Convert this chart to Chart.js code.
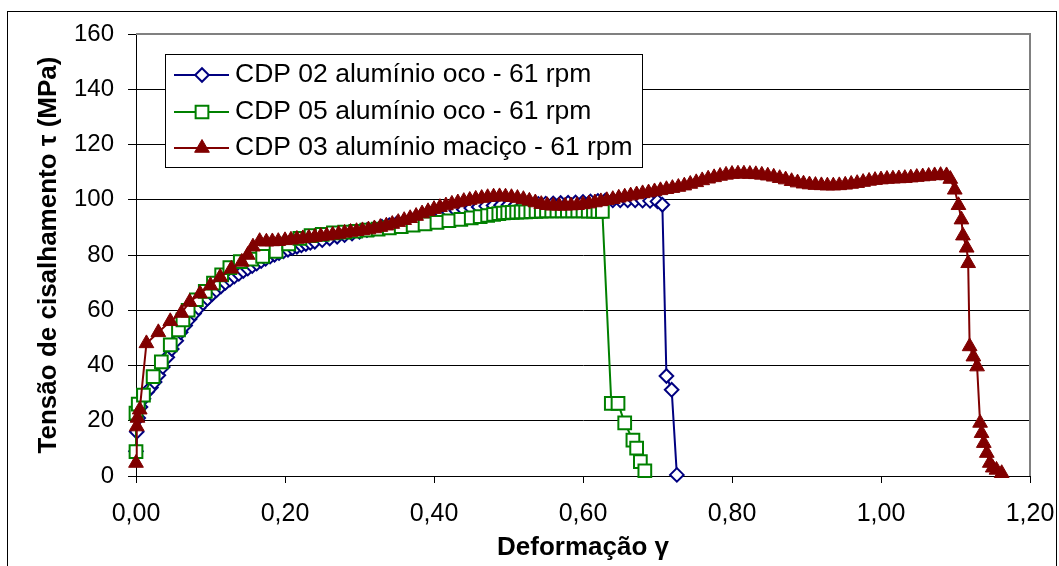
<!DOCTYPE html>
<html lang="pt-BR">
<head>
<meta charset="utf-8">
<title>Tensão de cisalhamento x Deformação</title>
<script src="https://cdn.jsdelivr.net/npm/chart.js@4.4.1/dist/chart.umd.min.js"></script>
<style>
  html, body { margin: 0; padding: 0; background: #fff; }
  #wrap { width: 1059px; height: 566px; }
</style>
</head>
<body>
<div id="wrap"><canvas id="tensaoChart" width="1059" height="566"></canvas></div>
<script>
// ==== Eixos ====
const xTicks = [0, 0.2, 0.4, 0.6, 0.8, 1.0, 1.2];
const yTicks = [0, 20, 40, 60, 80, 100, 120, 140, 160];

// ==== Nomes das séries ====
const seriesNames = [
    'CDP 02 alumínio oco - 61 rpm',
    'CDP 05 alumínio oco - 61 rpm',
    'CDP 03 alumínio maciço - 61 rpm'
];

// ==== CDP 02 (losango azul) ====
const cdp02X = [0, 0.001, 0.003, 0.006, 0.01, 0.015, 0.02, 0.025, 0.03, 0.036, 0.042, 0.048, 0.054, 0.06, 0.066, 0.072, 0.078, 0.084, 0.09, 0.096,
    0.102, 0.108, 0.114, 0.12, 0.126, 0.132, 0.138, 0.144, 0.15, 0.156, 0.162, 0.168, 0.174, 0.18, 0.186, 0.192, 0.198, 0.204, 0.21, 0.216,
    0.222, 0.228, 0.234, 0.24, 0.25, 0.26, 0.27, 0.28, 0.29, 0.3, 0.31, 0.32, 0.33, 0.34, 0.35, 0.36, 0.37, 0.38, 0.39, 0.4,
    0.41, 0.42, 0.43, 0.44, 0.45, 0.46, 0.47, 0.48, 0.49, 0.5, 0.51, 0.52, 0.53, 0.54, 0.55, 0.56, 0.57, 0.58, 0.59, 0.6,
    0.61, 0.62, 0.63, 0.64, 0.65, 0.66, 0.67, 0.68, 0.69, 0.7, 0.7065, 0.712, 0.719, 0.726];
const cdp02Y = [9, 16, 21, 25, 28, 30.5, 32, 34, 36.5, 39.5, 43, 46, 49, 52, 54.5, 56.8, 58.8, 60.8, 62.6, 64.2,
    65.8, 67.2, 68.6, 69.9, 71.1, 72.2, 73.2, 74.2, 75.1, 76, 76.9, 77.8, 78.6, 79.4, 80.1, 80.7, 81.3, 81.9, 82.5, 83,
    83.5, 84, 84.4, 84.8, 85.4, 86, 86.6, 87.2, 87.8, 88.4, 89, 89.6, 90.2, 90.8, 91.4, 92, 92.6, 93.2, 93.8, 94.4,
    95, 95.5, 96, 96.5, 97, 97.4, 97.7, 97.9, 98, 98.1, 98.2, 98.3, 98.4, 98.5, 98.6, 98.7, 98.8, 98.9, 99, 99.2,
    99.4, 99.6, 99.7, 99.8, 99.8, 99.8, 99.8, 99.7, 99.6, 99.4, 98.2, 36.2, 31.2, 0.4];

// ==== CDP 05 (quadrado verde) ====
const cdp05X = [0, 0, 0.003, 0.01, 0.023, 0.034, 0.046, 0.057, 0.063, 0.07, 0.081, 0.093, 0.104, 0.115, 0.126, 0.14, 0.155, 0.17, 0.188, 0.205,
    0.22, 0.235, 0.25, 0.265, 0.28, 0.295, 0.31, 0.325, 0.34, 0.356, 0.372, 0.388, 0.404, 0.42, 0.436, 0.45, 0.462, 0.472, 0.48, 0.487,
    0.493, 0.499, 0.505, 0.511, 0.517, 0.523, 0.53, 0.537, 0.544, 0.551, 0.558, 0.565, 0.572, 0.579, 0.586, 0.593, 0.6, 0.607, 0.614, 0.62,
    0.626, 0.638, 0.647, 0.656, 0.667, 0.672, 0.677, 0.683];
const cdp05Y = [8.8, 22.8, 26, 29.3, 36, 41.3, 47.5, 52.9, 56.5, 60, 63.8, 66.8, 69.8, 72.8, 75.4, 77.6, 78.5, 79.5, 81.3, 84,
    86, 87, 87.5, 88, 88.3, 88.6, 89, 89.4, 89.8, 90.3, 90.8, 91.3, 91.8, 92.4, 92.9, 93.4, 93.9, 94.3, 94.7, 95,
    95.2, 95.3, 95.4, 95.5, 95.6, 95.6, 95.7, 95.8, 95.9, 96, 96, 96, 96, 96, 96, 96, 96, 95.9, 95.9, 95.8,
    95.8, 26.3, 26.3, 19.2, 13, 10.1, 5.2, 1.9];

// ==== CDP 03 (triângulo vermelho) ====
const cdp03X = [0, 0.001, 0.002, 0.005, 0.014, 0.03, 0.046, 0.061, 0.072, 0.086, 0.1, 0.113, 0.128, 0.142, 0.15, 0.157, 0.166,
    0.175, 0.183, 0.191, 0.2, 0.208, 0.216, 0.224, 0.232, 0.24, 0.248, 0.256, 0.264, 0.272, 0.28, 0.288, 0.296, 0.304, 0.312, 0.32,
    0.328, 0.336, 0.344, 0.352, 0.36, 0.368, 0.376, 0.384, 0.392, 0.4, 0.408, 0.416, 0.424, 0.432, 0.44, 0.448, 0.456, 0.464, 0.472,
    0.48, 0.488, 0.496, 0.504, 0.512, 0.52, 0.528, 0.536, 0.544, 0.552, 0.56, 0.568, 0.576, 0.584, 0.592, 0.6, 0.608, 0.616, 0.624,
    0.632, 0.64, 0.648, 0.656, 0.664, 0.672, 0.68, 0.688, 0.696, 0.704, 0.712, 0.72, 0.728, 0.736, 0.744, 0.752, 0.76, 0.768, 0.776,
    0.784, 0.792, 0.8, 0.808, 0.816, 0.824, 0.832, 0.84, 0.848, 0.856, 0.864, 0.872, 0.88, 0.888, 0.896, 0.904, 0.912, 0.92, 0.928,
    0.936, 0.944, 0.952, 0.96, 0.968, 0.976, 0.984, 0.992, 1, 1.008, 1.016, 1.024, 1.032, 1.04, 1.048, 1.056, 1.064, 1.072, 1.08,
    1.088, 1.093, 1.099, 1.104, 1.108, 1.11, 1.115, 1.117, 1.119, 1.124, 1.129, 1.133, 1.135, 1.138, 1.142, 1.146, 1.15, 1.155, 1.162];
const cdp03Y = [4.7, 17.9, 21, 24, 48, 52, 56, 59, 63, 66, 69, 72, 75, 77.5, 80, 83, 85,
    84.8, 84.9, 85, 85.3, 85.5, 85.8, 86, 86.2, 86.5, 86.8, 87, 87.3, 87.6, 88, 88.3, 88.6, 88.9, 89.2, 89.6,
    90.1, 90.6, 91.2, 91.9, 92.6, 93.3, 94.1, 95, 95.8, 96.6, 97.3, 97.9, 98.5, 99, 99.5, 99.9, 100.3, 100.6, 100.9,
    101.1, 101.2, 101.1, 100.9, 100.6, 100.2, 99.6, 99, 98.4, 98, 97.8, 97.8, 97.8, 97.9, 98, 98.3, 98.6, 99, 99.4,
    99.8, 100.2, 100.7, 101.1, 101.5, 101.9, 102.3, 102.6, 103, 103.4, 103.8, 104.2, 104.6, 105.1, 105.7, 106.3, 107, 107.6, 108.1,
    108.6, 109, 109.3, 109.4, 109.4, 109.3, 109.2, 109, 108.7, 108.3, 107.8, 107.3, 106.7, 106.2, 105.8, 105.5, 105.3, 105.2, 105.1,
    105.1, 105.2, 105.4, 105.7, 106, 106.4, 106.8, 107.1, 107.3, 107.5, 107.6, 107.7, 107.8, 108, 108.2, 108.4, 108.6, 108.8, 108.9,
    108.8, 107.5, 103.6, 98, 92.8, 87, 82.6, 77, 46.9, 43.2, 39.6, 19.2, 15.5, 11.9, 8.3, 4.7, 3, 2.2, 1];

document.addEventListener('DOMContentLoaded', () => {

    const fontFamily = "'Liberation Sans', Arial, sans-serif";
    const toPoints = (xs, ys) => xs.map((x, i) => ({ x: x, y: ys[i] }));

    // ==== Estilo das séries ====
    const styles = [
        { color: '#000080', pointStyle: 'rectRot', radius: 6.8, fill: '#ffffff', borderWidth: 2 },
        { color: '#008000', pointStyle: 'rect', radius: 9, fill: '#ffffff', borderWidth: 2 },
        { color: '#800000', pointStyle: 'triangle', radius: 8.5, fill: '#800000', borderWidth: 1 }
    ];
    const seriesData = [toPoints(cdp02X, cdp02Y), toPoints(cdp05X, cdp05Y), toPoints(cdp03X, cdp03Y)];

    const datasets = seriesData.map((data, i) => ({
        label: seriesNames[i],
        data: data,
        showLine: true,
        borderColor: styles[i].color,
        borderWidth: 2,
        pointStyle: styles[i].pointStyle,
        pointRadius: styles[i].radius,
        pointBackgroundColor: styles[i].fill,
        pointBorderColor: styles[i].color,
        pointBorderWidth: styles[i].borderWidth,
        tension: 0,
        clip: false,
        order: 3 - i // vermelho por cima
    }));

    // ==== Fundo e moldura externa ====
    const moldura = {
        id: 'moldura',
        beforeDraw(chart) {
            const ctx = chart.ctx;
            ctx.save();
            ctx.fillStyle = '#ffffff';
            ctx.fillRect(0, 0, chart.width, chart.height);
            ctx.strokeStyle = '#000000';
            ctx.lineWidth = 1;
            ctx.strokeRect(7.5, 11.5, 1049, 600);
            ctx.restore();
        },
        beforeDatasetsDraw(chart) {
            const { ctx, chartArea: a } = chart;
            ctx.save();
            ctx.strokeStyle = '#808080';
            ctx.lineWidth = 2;
            ctx.beginPath();
            ctx.moveTo(a.left, a.top);
            ctx.lineTo(a.right, a.top);
            ctx.lineTo(a.right, a.bottom);
            ctx.stroke();
            ctx.restore();
        }
    };

    // ==== Legenda dentro da área do gráfico ====
    const legenda = {
        id: 'legenda',
        afterDraw(chart) {
            const ctx = chart.ctx;
            const box = { left: 165, top: 54, right: 642, bottom: 167 };
            const rows = [75, 112, 148];
            ctx.save();
            ctx.fillStyle = '#ffffff';
            ctx.fillRect(box.left, box.top, box.right - box.left, box.bottom - box.top);
            ctx.strokeStyle = '#000000';
            ctx.lineWidth = 1;
            ctx.strokeRect(box.left + 0.5, box.top + 0.5, box.right - box.left, box.bottom - box.top);

            rows.forEach((y, i) => {
                const s = styles[i];
                ctx.strokeStyle = s.color;
                ctx.lineWidth = 2;
                ctx.beginPath();
                ctx.moveTo(174, y);
                ctx.lineTo(229, y);
                ctx.stroke();

                ctx.fillStyle = s.fill;
                ctx.strokeStyle = s.color;
                ctx.lineWidth = s.borderWidth;
                Chart.helpers.drawPoint(ctx, {
                    pointStyle: s.pointStyle,
                    radius: s.radius,
                    rotation: 0,
                    borderWidth: s.borderWidth
                }, 202, y);

                ctx.fillStyle = '#000000';
                ctx.font = '26.5px ' + fontFamily;
                ctx.textAlign = 'left';
                ctx.textBaseline = 'middle';
                ctx.fillText(seriesNames[i], 235, y);
            });
            ctx.restore();
        }
    };

    new Chart(document.getElementById('tensaoChart'), {
        type: 'scatter',
        data: { datasets: datasets },
        options: {
            responsive: false,
            devicePixelRatio: 1,
            animation: false,
            layout: { padding: { left: 0, top: 34, right: 29, bottom: 0 } },
            plugins: {
                legend: { display: false },
                tooltip: { enabled: false }
            },
            scales: {
                x: {
                    type: 'linear',
                    min: 0,
                    max: 1.2,
                    afterBuildTicks: scale => { scale.ticks = xTicks.map(v => ({ value: v })); },
                    afterFit: scale => {
                        scale.height = 90;
                        scale.paddingLeft = 0;
                        scale.paddingRight = 0;
                    },
                    ticks: {
                        color: '#000000',
                        padding: 16,
                        maxRotation: 0,
                        font: { family: fontFamily, size: 25 },
                        callback: v => v.toFixed(2).replace('.', ',')
                    },
                    grid: {
                        drawOnChartArea: false,
                        drawTicks: true,
                        tickLength: 7,
                        color: '#000000'
                    },
                    border: { display: true, color: '#000000', width: 1 },
                    title: {
                        display: true,
                        text: 'Deformação γ',
                        color: '#000000',
                        padding: { top: 0, bottom: 3 },
                        font: { family: fontFamily, size: 26, weight: 'bold' }
                    }
                },
                y: {
                    type: 'linear',
                    min: 0,
                    max: 160,
                    afterBuildTicks: scale => { scale.ticks = yTicks.map(v => ({ value: v })); },
                    afterFit: scale => {
                        scale.width = 136;
                        scale.paddingTop = 0;
                        scale.paddingBottom = 0;
                    },
                    ticks: {
                        color: '#000000',
                        padding: 14,
                        font: { family: fontFamily, size: 24 }
                    },
                    grid: {
                        color: ctx => (ctx.tick && ctx.tick.value === 160) ? '#808080' : '#000000',
                        tickColor: '#000000',
                        tickLength: 8,
                        lineWidth: 1
                    },
                    border: { display: true, color: '#000000', width: 1 },
                    title: {
                        display: true,
                        text: 'Tensão de cisalhamento τ (MPa)',
                        color: '#000000',
                        padding: { top: 33, bottom: 0 },
                        font: { family: fontFamily, size: 26, weight: 'bold' }
                    }
                }
            }
        },
        plugins: [moldura, legenda]
    });

});
</script>
</body>
</html>
